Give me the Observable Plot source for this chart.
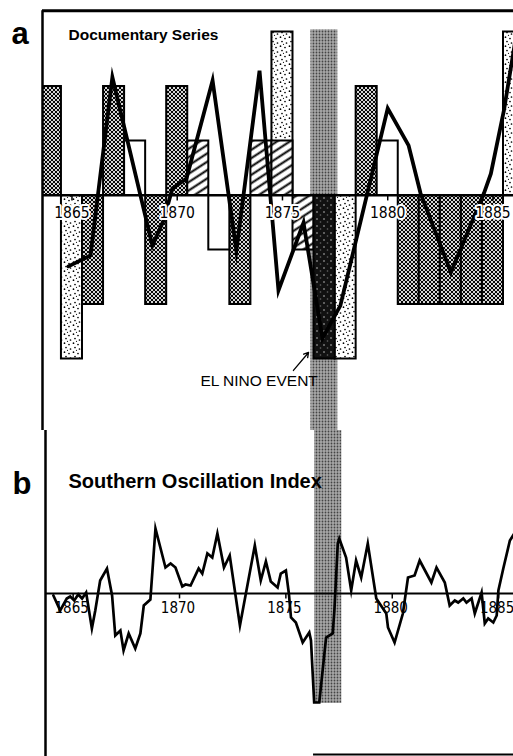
<!DOCTYPE html>
<html>
<head>
<meta charset="utf-8">
<script src="https://cdn.jsdelivr.net/npm/d3@7"></script>
<script src="https://cdn.jsdelivr.net/npm/@observablehq/plot@0.6"></script>
<style>
  html, body { margin: 0; padding: 0; background: #fff; }
  #chart svg { display: block; }
</style>
</head>
<body>
<div id="chart"></div>
<script>
// ---------- DATA ----------
// Panel a: documentary series bars (one per year, value in index classes)
const barYears = [1864,1865,1866,1867,1868,1869,1870,1871,1872,1873,1874,1875,1876,1877,1878,1879,1880,1881,1882,1883,1884,1885,1886];
const barValues = [2,-3,-2,2,1,-2,2,1,-1,-2,1,3,-1,-3,-3,2,1,-2,-2,-2,-2,-2,3];
const barPatterns = ["checker","stipple","checker","checker","blank","checker","checker","hatch","blank","checker","hatch","stipple","hatch","dark","stipple","checker","blank","checker","checker","checker","checker","checker","stipple"];
// secondary (overlaid) bar
const overlayYears = [1875];
const overlayValues = [1];
const overlayPatterns = ["hatch"];

// Panel a: smoothed documentary curve
const curveYears = [1864.83,1865.88,1866.92,1868.82,1869.35,1869.77,1870.44,1871.68,1872.81,1873.91,1874.81,1876.00,1876.90,1877.75,1880.00,1880.99,1881.56,1883.00,1884.57,1884.90,1885.52,1886.14];
const curveValues = [-1.30,-1.10,2.17,-0.92,-0.46,0.13,0.31,2.11,-1.01,2.29,-1.74,-0.50,-2.62,-2.02,1.60,0.92,0.04,-1.41,0.04,0.40,1.56,3.03];

// Panel b: Southern Oscillation Index
const soiYears = [1864.07,1864.39,1864.70,1864.86,1865.05,1865.24,1865.42,1865.61,1865.88,1866.04,1866.27,1866.59,1866.83,1866.98,1867.22,1867.37,1867.61,1867.92,1868.16,1868.32,1868.63,1868.87,1869.34,1869.58,1869.81,1870.13,1870.28,1870.52,1870.90,1871.07,1871.31,1871.54,1871.78,1872.09,1872.36,1872.84,1873.54,1873.82,1874.06,1874.29,1874.61,1874.76,1875.00,1875.14,1875.24,1875.47,1875.79,1876.10,1876.18,1876.33,1876.57,1876.89,1877.20,1877.28,1877.44,1877.51,1877.83,1878.07,1878.30,1878.54,1878.85,1879.25,1879.72,1879.80,1880.11,1880.50,1880.74,1881.05,1881.29,1881.84,1882.08,1882.47,1882.70,1882.94,1883.10,1883.34,1883.49,1883.73,1883.88,1884.20,1884.35,1884.51,1884.75,1884.91,1884.99,1885.22,1885.53,1885.77];
const soiValues = [-0.10,-0.85,-0.25,-0.15,-0.35,-0.05,-0.25,0.05,-1.75,-0.85,0.65,1.25,-0.10,-2.10,-1.85,-2.85,-2.00,-2.75,-2.00,-0.60,-0.30,3.25,1.30,1.50,1.30,0.35,0.45,0.40,1.25,1.00,2.00,1.80,3.00,1.30,1.90,-1.60,2.40,0.65,1.60,0.60,0.30,1.00,1.15,0.00,-1.20,-1.45,-2.45,-1.95,-2.35,-5.45,-5.45,-2.20,-2.00,-0.85,2.50,2.75,1.80,0.15,1.65,0.80,2.50,-0.25,-1.00,-1.70,-2.45,-1.00,0.80,0.90,1.65,0.55,1.30,0.55,-0.60,-0.35,-0.45,-0.25,-0.45,-0.25,-1.00,0.05,-1.50,-1.25,-1.45,-1.10,0.15,1.25,2.65,3.05];

// Tick labels and El Niño event span
const tickYears = [1865, 1870, 1875, 1880, 1885];
const eventStart = 1876.35;
const eventEnd = 1877.63;

// ---------- BUILD ----------
const bars = barYears.map((year, i) => ({year, value: barValues[i], pattern: barPatterns[i]}));
const overlay = overlayYears.map((year, i) => ({year, value: overlayValues[i], pattern: overlayPatterns[i]}));
const curve = curveYears.map((year, i) => ({year, value: curveValues[i]}));
const soi = soiYears.map((year, i) => ({year, value: soiValues[i]}));

const W = 513;
const xDomA = [1863.60, 1885.975];
const yDomA = [-4.312, 3.578];
const xDomB = [1863.70, 1885.70];
const yDomB = [-8.15, 8.15];
const topBorder = 3.39;
const numFont = "'Liberation Sans Narrow', 'Arial Narrow', 'DejaVu Sans Condensed', sans-serif";
const titleFont = "'Liberation Sans', Arial, Helvetica, sans-serif";

const patternDefs = (suffix) => `
  <pattern id="checker${suffix}" width="4" height="4" patternUnits="userSpaceOnUse">
    <rect width="4" height="4" fill="#fff"/>
    <circle cx="0" cy="0" r="1.2" fill="#000"/><circle cx="4" cy="0" r="1.2" fill="#000"/>
    <circle cx="0" cy="4" r="1.2" fill="#000"/><circle cx="4" cy="4" r="1.2" fill="#000"/>
    <circle cx="2" cy="2" r="1.2" fill="#000"/>
  </pattern>
  <pattern id="stipple${suffix}" width="9" height="9" patternUnits="userSpaceOnUse">
    <rect width="9" height="9" fill="#fff"/>
    <circle cx="1.5" cy="1.2" r="0.85" fill="#000"/><circle cx="6" cy="2.5" r="0.85" fill="#000"/>
    <circle cx="3" cy="5.5" r="0.85" fill="#000"/><circle cx="7.5" cy="7" r="0.85" fill="#000"/>
    <circle cx="4.5" cy="8.3" r="0.6" fill="#000"/>
  </pattern>
  <pattern id="hatch${suffix}" width="10" height="7" patternUnits="userSpaceOnUse" patternTransform="rotate(-33)">
    <rect width="10" height="7" fill="#fff"/>
    <rect y="2.5" width="10" height="2" fill="#000"/>
  </pattern>
  <pattern id="blank${suffix}" width="4" height="4" patternUnits="userSpaceOnUse">
    <rect width="4" height="4" fill="#fff"/>
  </pattern>
  <pattern id="dark${suffix}" width="7" height="7" patternUnits="userSpaceOnUse">
    <rect width="7" height="7" fill="#111"/>
    <circle cx="2" cy="2" r="1" fill="#777"/><circle cx="5.5" cy="5" r="0.8" fill="#666"/>
  </pattern>
  <pattern id="band${suffix}" width="3" height="3" patternUnits="userSpaceOnUse">
    <rect width="3" height="3" fill="#a8a8a8"/>
    <circle cx="1.5" cy="1.5" r="0.9" fill="#444"/>
  </pattern>`;

function addDefs(svg, suffix) {
  const defs = document.createElementNS("http://www.w3.org/2000/svg", "defs");
  defs.innerHTML = patternDefs(suffix);
  svg.insertBefore(defs, svg.firstChild);
}

const patterns = ["checker", "stipple", "blank", "hatch", "dark"];

const panelA = Plot.plot({
  width: W, height: 430,
  marginLeft: 42, marginRight: 0, marginTop: 0, marginBottom: 0,
  x: {domain: xDomA, axis: null},
  y: {domain: yDomA, axis: null},
  style: {background: "#fff", overflow: "visible"},
  marks: [
    Plot.rect([0], {x1: eventStart, x2: eventEnd, y1: yDomA[0], y2: 3.04, fill: "url(#bandA)"}),
    ...patterns.map(p => Plot.rect(bars.filter(d => d.pattern === p), {
      x1: d => d.year - 0.5, x2: d => d.year + 0.5, y1: 0, y2: "value",
      fill: `url(#${p}A)`, stroke: "#000", strokeWidth: 2, clip: true
    })),
    Plot.rect(overlay, {
      x1: d => d.year - 0.5, x2: d => d.year + 0.5, y1: 0, y2: "value",
      fill: d => `url(#${d.pattern}A)`, stroke: "#000", strokeWidth: 2, clip: true
    }),
    Plot.ruleY([0], {stroke: "#000", strokeWidth: 2}),
    Plot.line(curve, {x: "year", y: "value", stroke: "#000", strokeWidth: 3.8,
      strokeLinejoin: "miter", strokeMiterlimit: 8, clip: true}),
    Plot.ruleX(tickYears, {x: d => d, y1: 0, y2: -0.1, stroke: "#000", strokeWidth: 1.5}),
    Plot.text(tickYears, {x: d => d, y: 0, dy: 18, text: d => String(d), lineAnchor: "middle",
      fontFamily: numFont, fontSize: 15.5, fill: "#000", stroke: "#fff", strokeWidth: 4}),
    Plot.ruleY([topBorder], {stroke: "#000", strokeWidth: 3}),
    Plot.ruleX([xDomA[0]], {y1: topBorder, y2: yDomA[0], stroke: "#000", strokeWidth: 2.5}),
    Plot.text(["Documentary Series"], {text: d => d, frameAnchor: "top-left", dx: 26, dy: 39,
      lineAnchor: "bottom", textAnchor: "start", fontFamily: titleFont, fontWeight: "bold", fontSize: 15.5, fill: "#000"}),
    Plot.text(["a"], {text: d => d, frameAnchor: "top-left", dx: -31, dy: 43,
      lineAnchor: "bottom", textAnchor: "start", fontFamily: titleFont, fontWeight: "bold", fontSize: 31, fill: "#000"}),
    Plot.text(["EL NINO EVENT"], {text: d => d, x: 1871.1, y: -3.5, lineAnchor: "bottom", textAnchor: "start",
      fontFamily: titleFont, fontSize: 15.5, fill: "#000"}),
    Plot.arrow([0], {x1: 1875.52, y1: -3.21, x2: 1876.24, y2: -2.88, stroke: "#000", strokeWidth: 1.3, headLength: 6})
  ]
});
addDefs(panelA, "A");

const panelB = Plot.plot({
  width: W, height: 326,
  marginLeft: 45, marginRight: 0, marginTop: 0, marginBottom: 0,
  x: {domain: xDomB, axis: null},
  y: {domain: yDomB, axis: null},
  style: {background: "#fff", overflow: "visible"},
  marks: [
    Plot.rect([0], {x1: eventStart, x2: eventEnd, y1: -5.5, y2: yDomB[1], fill: "url(#bandB)"}),
    Plot.ruleY([0], {stroke: "#000", strokeWidth: 2}),
    Plot.line(soi, {x: "year", y: "value", stroke: "#000", strokeWidth: 2.7,
      strokeLinejoin: "miter", strokeMiterlimit: 8, clip: true}),
    Plot.ruleX(tickYears, {x: d => d, y1: 0, y2: -0.27, stroke: "#000", strokeWidth: 1.5}),
    Plot.text(tickYears, {x: d => d, y: 0, dy: 15, dx: -1.5, text: d => String(d), lineAnchor: "middle",
      fontFamily: numFont, fontSize: 15, fill: "#000"}),
    Plot.ruleX([xDomB[0]], {stroke: "#000", strokeWidth: 2.5}),
    Plot.ruleY([-8.05], {x1: 1876.3, x2: xDomB[1], stroke: "#000", strokeWidth: 2}),
    Plot.text(["Southern Oscillation Index"], {text: d => d, frameAnchor: "top-left", dx: 23, dy: 57,
      lineAnchor: "bottom", textAnchor: "start", fontFamily: titleFont, fontWeight: "bold", fontSize: 20, fill: "#000"}),
    Plot.text(["b"], {text: d => d, frameAnchor: "top-left", dx: -33, dy: 63,
      lineAnchor: "bottom", textAnchor: "start", fontFamily: titleFont, fontWeight: "bold", fontSize: 31, fill: "#000"})
  ]
});
addDefs(panelB, "B");

document.getElementById("chart").append(panelA, panelB);
</script>
</body>
</html>
